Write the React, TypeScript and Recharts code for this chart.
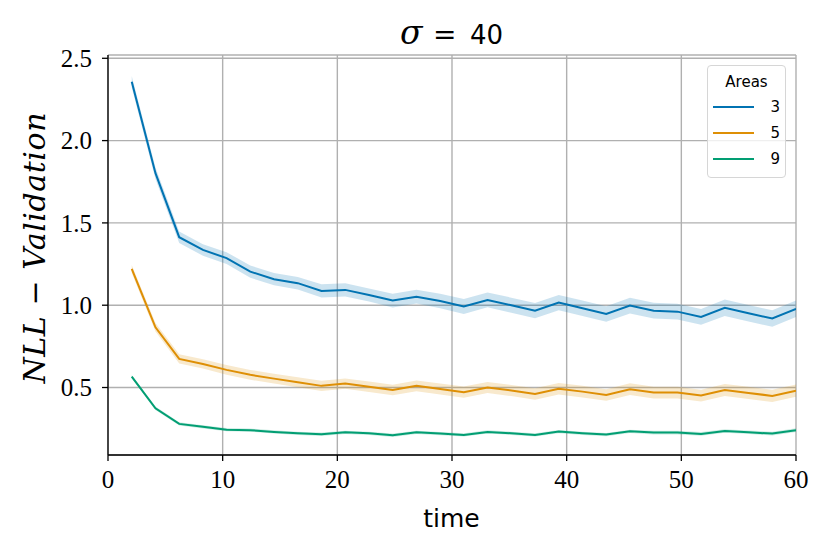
import React from 'react';
import {
  ComposedChart,
  Line,
  Area,
  XAxis,
  YAxis,
  CartesianGrid,
  Legend,
  Customized,
} from 'recharts';

// time points
const times = [
  2.07, 4.14, 6.21, 8.28, 10.34, 12.41, 14.48, 16.55, 18.62, 20.69, 22.76, 24.83, 26.9, 28.97, 31.03,
  33.1, 35.17, 37.24, 39.31, 41.38, 43.45, 45.52, 47.59, 49.66, 51.72, 53.79, 55.86, 57.93, 60,
];

// mean NLL per number of areas
const nll3 = [
  2.358, 1.802, 1.413, 1.336, 1.286, 1.204, 1.158, 1.134, 1.087, 1.093, 1.062, 1.028, 1.052, 1.025, 0.992,
  1.032, 1.0, 0.967, 1.016, 0.982, 0.947, 0.998, 0.967, 0.961, 0.929, 0.984, 0.951, 0.919, 0.978,
];
const nll5 = [
  1.22, 0.866, 0.674, 0.643, 0.607, 0.577, 0.554, 0.532, 0.51, 0.524, 0.504, 0.485, 0.51, 0.491, 0.472,
  0.5, 0.482, 0.461, 0.493, 0.475, 0.455, 0.49, 0.469, 0.469, 0.451, 0.485, 0.467, 0.449, 0.481,
];
const nll9 = [
  0.566, 0.374, 0.279, 0.261, 0.244, 0.241, 0.23, 0.222, 0.216, 0.228, 0.222, 0.21, 0.228, 0.22, 0.212,
  0.23, 0.222, 0.212, 0.232, 0.222, 0.214, 0.234, 0.226, 0.226, 0.218, 0.236, 0.228, 0.22, 0.241,
];

// confidence half-widths
const ci3 = [
  0.035, 0.035, 0.035, 0.035, 0.036, 0.037, 0.037, 0.038, 0.04, 0.04, 0.04, 0.042, 0.042, 0.044, 0.045,
  0.045, 0.046, 0.046, 0.046, 0.047, 0.047, 0.048, 0.048, 0.048, 0.048, 0.05, 0.05, 0.05, 0.05,
];
const ci5 = [
  0.025, 0.026, 0.028, 0.028, 0.029, 0.03, 0.03, 0.03, 0.031, 0.031, 0.032, 0.032, 0.033, 0.033, 0.034,
  0.034, 0.034, 0.035, 0.035, 0.035, 0.035, 0.036, 0.036, 0.036, 0.036, 0.037, 0.037, 0.037, 0.037,
];
const ci9 = [
  0.01, 0.01, 0.01, 0.01, 0.01, 0.01, 0.01, 0.01, 0.01, 0.01, 0.01, 0.01, 0.01, 0.01, 0.01,
  0.01, 0.01, 0.01, 0.01, 0.01, 0.01, 0.01, 0.011, 0.011, 0.011, 0.011, 0.011, 0.011, 0.011,
];

const xTicks = [0, 10, 20, 30, 40, 50, 60];
const yTicks = [0.5, 1.0, 1.5, 2.0, 2.5];
const seriesNames = ['3', '5', '9'];
const seriesColors = ['#0173b2', '#de8f05', '#029e73'];

const rows = times.map((t, i) => ({
  t,
  m3: nll3[i],
  m5: nll5[i],
  m9: nll9[i],
  b3: [nll3[i] - ci3[i], nll3[i] + ci3[i]],
  b5: [nll5[i] - ci5[i], nll5[i] + ci5[i]],
  b9: [nll9[i] - ci9[i], nll9[i] + ci9[i]],
}));

const X_DOMAIN: [number, number] = [0, 60];
const Y_DOMAIN: [number, number] = [0.09, 2.52];

const serif = "'Liberation Serif', 'DejaVu Serif', serif";
const mathSerif = "'DejaVu Serif', serif";
const sans = "'DejaVu Sans', sans-serif";

const LegendBox = () => {
  const centers = [41.7, 68.3, 94.3];
  return (
    <div
      style={{
        position: 'relative',
        width: 79,
        height: 113,
        boxSizing: 'border-box',
        border: '1px solid #d6d6d6',
        borderRadius: 4,
        background: 'rgba(255,255,255,0.8)',
        fontFamily: sans,
        fontSize: 15,
        color: '#000',
      }}
    >
      <div
        style={{
          position: 'absolute',
          top: 6.5,
          left: 0,
          width: '100%',
          textAlign: 'center',
          lineHeight: '18px',
        }}
      >
        Areas
      </div>
      {seriesNames.map((n, i) => (
        <React.Fragment key={n}>
          <div
            style={{
              position: 'absolute',
              left: 5,
              top: centers[i] - 2,
              width: 41,
              height: 2,
              background: seriesColors[i],
            }}
          />
          <div
            style={{
              position: 'absolute',
              right: 5,
              top: centers[i] - 10,
              lineHeight: '18px',
            }}
          >
            {n}
          </div>
        </React.Fragment>
      ))}
    </div>
  );
};

const Extras = () => (
  <g>
    <text y={36} fill="#000">
      <tspan x={392} fontFamily={mathSerif} fontStyle="italic" fontSize={33}>
        σ
      </tspan>
      <tspan x={425} fontFamily={mathSerif} fontSize={28}>
        =
      </tspan>
      <tspan x={462} fontFamily={sans} fontSize={26}>
        40
      </tspan>
    </text>
    <text
      x={443.5}
      y={519}
      textAnchor="middle"
      fontFamily={sans}
      fontSize={25}
      fill="#000"
    >
      time
    </text>
    <text
      transform="translate(37, 240) rotate(-90)"
      x={0}
      y={0}
      textAnchor="middle"
      fontFamily={mathSerif}
      fontStyle="italic"
      fontSize={30}
      textLength={271}
      lengthAdjust="spacing"
      fill="#000"
    >
      NLL − Validation
    </text>
  </g>
);

export default function App() {
  const tickStyle = { fontFamily: serif, fontSize: 25, fill: '#000' };
  return (
    <ComposedChart
      width={822}
      height={546}
      data={rows}
      margin={{ top: 47, right: 34, left: 40, bottom: 69 }}
    >
      <CartesianGrid stroke="#b0b0b0" strokeWidth={1.4} />
      <XAxis
        dataKey="t"
        type="number"
        domain={X_DOMAIN}
        ticks={xTicks}
        allowDataOverflow
        height={30}
        tickSize={6}
        tickMargin={9}
        tick={tickStyle}
        axisLine={{ stroke: '#000', strokeWidth: 1.3 }}
        tickLine={{ stroke: '#000', strokeWidth: 1.3 }}
      />
      <XAxis
        xAxisId="top"
        orientation="top"
        dataKey="t"
        type="number"
        domain={X_DOMAIN}
        allowDataOverflow
        height={0}
        tick={false}
        tickLine={false}
        axisLine={{ stroke: '#000', strokeWidth: 1.3 }}
      />
      <YAxis
        type="number"
        domain={Y_DOMAIN}
        ticks={yTicks}
        allowDataOverflow
        width={60}
        tickSize={6}
        tickMargin={10}
        tick={tickStyle}
        tickFormatter={(v: number) => v.toFixed(1)}
        axisLine={{ stroke: '#000', strokeWidth: 1.3 }}
        tickLine={{ stroke: '#000', strokeWidth: 1.3 }}
      />
      <YAxis
        yAxisId="right"
        orientation="right"
        type="number"
        domain={Y_DOMAIN}
        allowDataOverflow
        width={0}
        tick={false}
        tickLine={false}
        axisLine={{ stroke: '#000', strokeWidth: 1.3 }}
      />
      <Area type="linear" dataKey="b3" stroke="none" fill={seriesColors[0]} fillOpacity={0.2} isAnimationActive={false} legendType="none" activeDot={false} />
      <Area type="linear" dataKey="b5" stroke="none" fill={seriesColors[1]} fillOpacity={0.2} isAnimationActive={false} legendType="none" activeDot={false} />
      <Area type="linear" dataKey="b9" stroke="none" fill={seriesColors[2]} fillOpacity={0.2} isAnimationActive={false} legendType="none" activeDot={false} />
      <Line type="linear" dataKey="m3" name="3" stroke={seriesColors[0]} strokeWidth={2} dot={false} activeDot={false} isAnimationActive={false} />
      <Line type="linear" dataKey="m5" name="5" stroke={seriesColors[1]} strokeWidth={2} dot={false} activeDot={false} isAnimationActive={false} />
      <Line type="linear" dataKey="m9" name="9" stroke={seriesColors[2]} strokeWidth={2} dot={false} activeDot={false} isAnimationActive={false} />
      <Legend
        layout="vertical"
        align="center"
        verticalAlign="middle"
        content={() => <LegendBox />}
        wrapperStyle={{ position: 'absolute', left: 699, top: 57, width: 79, height: 113 }}
      />
      <Customized component={Extras} />
    </ComposedChart>
  );
}
